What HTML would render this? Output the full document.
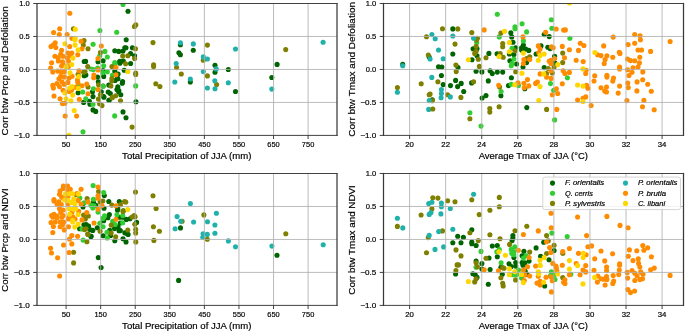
<!DOCTYPE html>
<html><head><meta charset="utf-8"><style>
html,body{margin:0;padding:0;background:#fff;}
svg{display:block;font-family:"Liberation Sans",sans-serif;will-change:transform;}
text{stroke:#000;stroke-width:0.18px;}
</style></head><body>
<svg width="685" height="332" viewBox="0 0 685 332">
<rect width="685" height="332" fill="#fff"/>
<clipPath id="c1"><rect x="37.0" y="3.5" width="300.00" height="131.90"/></clipPath>
<g clip-path="url(#c1)">
<g fill="#006400"><circle cx="84.2" cy="75.7" r="2.55"/><circle cx="84.2" cy="61.5" r="2.55"/><circle cx="78.1" cy="92.7" r="2.55"/><circle cx="83.6" cy="102.4" r="2.55"/><circle cx="89.4" cy="101.4" r="2.55"/><circle cx="90.0" cy="104.2" r="2.55"/><circle cx="93.0" cy="109.9" r="2.55"/><circle cx="95.7" cy="111.4" r="2.55"/><circle cx="93.0" cy="96.6" r="2.55"/><circle cx="103.9" cy="97.2" r="2.55"/><circle cx="109.0" cy="100.2" r="2.55"/><circle cx="128.0" cy="11.2" r="2.55"/><circle cx="126.2" cy="39.7" r="2.55"/><circle cx="114.8" cy="50.8" r="2.55"/><circle cx="118.7" cy="51.4" r="2.55"/><circle cx="123.0" cy="51.1" r="2.55"/><circle cx="124.8" cy="47.8" r="2.55"/><circle cx="85.6" cy="61.4" r="2.55"/><circle cx="98.0" cy="61.7" r="2.55"/><circle cx="103.1" cy="60.8" r="2.55"/><circle cx="119.9" cy="61.4" r="2.55"/><circle cx="123.3" cy="61.1" r="2.55"/><circle cx="85.9" cy="75.0" r="2.55"/><circle cx="97.5" cy="77.0" r="2.55"/><circle cx="98.3" cy="81.7" r="2.55"/><circle cx="103.1" cy="70.5" r="2.55"/><circle cx="103.7" cy="76.4" r="2.55"/><circle cx="114.8" cy="71.4" r="2.55"/><circle cx="118.1" cy="74.1" r="2.55"/><circle cx="117.5" cy="78.4" r="2.55"/><circle cx="115.1" cy="80.5" r="2.55"/><circle cx="122.6" cy="81.5" r="2.55"/><circle cx="124.2" cy="70.2" r="2.55"/><circle cx="119.9" cy="63.3" r="2.55"/><circle cx="92.5" cy="91.7" r="2.55"/><circle cx="101.3" cy="91.7" r="2.55"/><circle cx="103.7" cy="96.6" r="2.55"/><circle cx="103.1" cy="86.0" r="2.55"/><circle cx="108.2" cy="92.0" r="2.55"/><circle cx="110.3" cy="93.5" r="2.55"/><circle cx="108.8" cy="85.1" r="2.55"/><circle cx="117.8" cy="86.9" r="2.55"/><circle cx="116.9" cy="89.6" r="2.55"/><circle cx="118.7" cy="91.7" r="2.55"/><circle cx="120.8" cy="94.7" r="2.55"/><circle cx="109.1" cy="100.2" r="2.55"/><circle cx="122.3" cy="83.3" r="2.55"/><circle cx="126.0" cy="47.7" r="2.55"/><circle cx="132.4" cy="47.7" r="2.55"/><circle cx="130.6" cy="53.6" r="2.55"/><circle cx="134.6" cy="55.8" r="2.55"/><circle cx="119.7" cy="61.7" r="2.55"/><circle cx="130.6" cy="63.5" r="2.55"/><circle cx="117.9" cy="78.8" r="2.55"/><circle cx="118.8" cy="90.6" r="2.55"/><circle cx="136.0" cy="101.8" r="2.55"/><circle cx="123.0" cy="111.9" r="2.55"/><circle cx="126.0" cy="117.7" r="2.55"/><circle cx="180.4" cy="44.8" r="2.55"/><circle cx="193.3" cy="50.2" r="2.55"/><circle cx="178.9" cy="52.7" r="2.55"/><circle cx="180.4" cy="54.7" r="2.55"/><circle cx="215.0" cy="65.3" r="2.55"/><circle cx="215.0" cy="72.3" r="2.55"/><circle cx="228.3" cy="69.5" r="2.55"/><circle cx="190.3" cy="81.9" r="2.55"/><circle cx="235.5" cy="91.5" r="2.55"/><circle cx="277.1" cy="64.4" r="2.55"/><circle cx="271.8" cy="77.5" r="2.55"/></g>
<g fill="#32cd32"><circle cx="99.9" cy="30.5" r="2.55"/><circle cx="116.7" cy="32.3" r="2.55"/><circle cx="78.7" cy="85.4" r="2.55"/><circle cx="82.7" cy="92.0" r="2.55"/><circle cx="85.8" cy="98.7" r="2.55"/><circle cx="93.0" cy="104.2" r="2.55"/><circle cx="114.7" cy="115.9" r="2.55"/><circle cx="83.0" cy="131.8" r="2.55"/><circle cx="123.0" cy="4.4" r="2.55"/><circle cx="93.1" cy="44.3" r="2.55"/><circle cx="104.9" cy="51.4" r="2.55"/><circle cx="99.8" cy="55.7" r="2.55"/><circle cx="107.3" cy="57.0" r="2.55"/><circle cx="114.8" cy="62.6" r="2.55"/><circle cx="91.0" cy="69.0" r="2.55"/><circle cx="93.4" cy="69.6" r="2.55"/><circle cx="97.7" cy="68.1" r="2.55"/><circle cx="103.7" cy="65.7" r="2.55"/><circle cx="102.8" cy="72.6" r="2.55"/><circle cx="107.3" cy="71.7" r="2.55"/><circle cx="114.8" cy="64.2" r="2.55"/><circle cx="112.4" cy="75.3" r="2.55"/><circle cx="93.4" cy="88.7" r="2.55"/><circle cx="103.1" cy="86.3" r="2.55"/><circle cx="135.7" cy="85.9" r="2.55"/></g>
<g fill="#808000"><circle cx="73.4" cy="28.7" r="2.55"/><circle cx="84.0" cy="40.6" r="2.55"/><circle cx="83.3" cy="45.1" r="2.55"/><circle cx="78.1" cy="74.2" r="2.55"/><circle cx="83.6" cy="72.3" r="2.55"/><circle cx="98.4" cy="99.0" r="2.55"/><circle cx="102.0" cy="105.6" r="2.55"/><circle cx="99.6" cy="103.8" r="2.55"/><circle cx="112.3" cy="97.4" r="2.55"/><circle cx="134.4" cy="26.5" r="2.55"/><circle cx="135.8" cy="24.9" r="2.55"/><circle cx="153.0" cy="42.6" r="2.55"/><circle cx="88.0" cy="48.7" r="2.55"/><circle cx="100.4" cy="52.6" r="2.55"/><circle cx="122.7" cy="56.0" r="2.55"/><circle cx="87.7" cy="66.6" r="2.55"/><circle cx="85.0" cy="71.5" r="2.55"/><circle cx="111.9" cy="66.6" r="2.55"/><circle cx="111.9" cy="78.5" r="2.55"/><circle cx="111.8" cy="81.1" r="2.55"/><circle cx="88.0" cy="87.0" r="2.55"/><circle cx="98.6" cy="84.8" r="2.55"/><circle cx="100.4" cy="94.7" r="2.55"/><circle cx="110.9" cy="86.0" r="2.55"/><circle cx="115.7" cy="95.7" r="2.55"/><circle cx="112.1" cy="97.8" r="2.55"/><circle cx="120.5" cy="100.8" r="2.55"/><circle cx="135.5" cy="48.8" r="2.55"/><circle cx="127.8" cy="55.8" r="2.55"/><circle cx="134.6" cy="58.5" r="2.55"/><circle cx="125.6" cy="63.7" r="2.55"/><circle cx="153.6" cy="64.8" r="2.55"/><circle cx="153.6" cy="66.6" r="2.55"/><circle cx="176.6" cy="67.6" r="2.55"/><circle cx="135.7" cy="73.0" r="2.55"/><circle cx="135.7" cy="74.5" r="2.55"/><circle cx="155.8" cy="83.8" r="2.55"/><circle cx="159.9" cy="86.5" r="2.55"/><circle cx="132.1" cy="127.1" r="2.55"/><circle cx="207.4" cy="45.1" r="2.55"/><circle cx="203.3" cy="60.2" r="2.55"/><circle cx="181.3" cy="74.0" r="2.55"/><circle cx="207.4" cy="75.9" r="2.55"/><circle cx="216.6" cy="84.6" r="2.55"/><circle cx="285.7" cy="49.6" r="2.55"/></g>
<g fill="#20b2aa"><circle cx="176.2" cy="63.5" r="2.55"/><circle cx="174.8" cy="82.0" r="2.55"/><circle cx="180.4" cy="42.7" r="2.55"/><circle cx="193.3" cy="43.9" r="2.55"/><circle cx="235.5" cy="49.0" r="2.55"/><circle cx="203.3" cy="56.9" r="2.55"/><circle cx="207.4" cy="59.0" r="2.55"/><circle cx="216.2" cy="68.9" r="2.55"/><circle cx="203.3" cy="71.6" r="2.55"/><circle cx="190.3" cy="79.0" r="2.55"/><circle cx="214.8" cy="80.8" r="2.55"/><circle cx="207.4" cy="88.0" r="2.55"/><circle cx="215.0" cy="88.8" r="2.55"/><circle cx="228.3" cy="82.8" r="2.55"/><circle cx="323.1" cy="42.3" r="2.55"/><circle cx="271.8" cy="89.1" r="2.55"/></g>
<g fill="#ff8c00"><circle cx="69.8" cy="13.2" r="2.55"/><circle cx="59.7" cy="28.7" r="2.55"/><circle cx="53.6" cy="32.5" r="2.55"/><circle cx="59.3" cy="34.6" r="2.55"/><circle cx="67.1" cy="34.6" r="2.55"/><circle cx="71.9" cy="38.2" r="2.55"/><circle cx="81.1" cy="41.2" r="2.55"/><circle cx="55.2" cy="42.7" r="2.55"/><circle cx="51.0" cy="46.6" r="2.55"/><circle cx="55.8" cy="47.5" r="2.55"/><circle cx="53.1" cy="45.1" r="2.55"/><circle cx="69.7" cy="46.6" r="2.55"/><circle cx="82.0" cy="48.7" r="2.55"/><circle cx="61.6" cy="50.2" r="2.55"/><circle cx="77.8" cy="54.8" r="2.55"/><circle cx="60.7" cy="54.2" r="2.55"/><circle cx="54.9" cy="56.3" r="2.55"/><circle cx="58.3" cy="57.5" r="2.55"/><circle cx="63.1" cy="56.3" r="2.55"/><circle cx="67.9" cy="53.0" r="2.55"/><circle cx="71.8" cy="53.0" r="2.55"/><circle cx="70.3" cy="55.7" r="2.55"/><circle cx="67.3" cy="58.1" r="2.55"/><circle cx="51.6" cy="62.7" r="2.55"/><circle cx="50.7" cy="68.1" r="2.55"/><circle cx="52.8" cy="72.0" r="2.55"/><circle cx="57.7" cy="71.1" r="2.55"/><circle cx="58.3" cy="60.9" r="2.55"/><circle cx="62.5" cy="61.8" r="2.55"/><circle cx="68.5" cy="61.2" r="2.55"/><circle cx="61.6" cy="66.0" r="2.55"/><circle cx="63.1" cy="64.5" r="2.55"/><circle cx="68.5" cy="66.6" r="2.55"/><circle cx="61.3" cy="72.0" r="2.55"/><circle cx="64.3" cy="71.4" r="2.55"/><circle cx="60.7" cy="76.3" r="2.55"/><circle cx="64.3" cy="76.9" r="2.55"/><circle cx="69.1" cy="78.0" r="2.55"/><circle cx="72.1" cy="76.3" r="2.55"/><circle cx="58.9" cy="78.7" r="2.55"/><circle cx="79.0" cy="70.8" r="2.55"/><circle cx="77.5" cy="80.0" r="2.55"/><circle cx="52.8" cy="85.4" r="2.55"/><circle cx="53.4" cy="88.1" r="2.55"/><circle cx="57.0" cy="83.6" r="2.55"/><circle cx="59.5" cy="86.6" r="2.55"/><circle cx="61.9" cy="81.8" r="2.55"/><circle cx="64.3" cy="84.2" r="2.55"/><circle cx="67.9" cy="82.4" r="2.55"/><circle cx="63.1" cy="90.2" r="2.55"/><circle cx="69.1" cy="91.4" r="2.55"/><circle cx="71.5" cy="90.2" r="2.55"/><circle cx="75.1" cy="87.2" r="2.55"/><circle cx="77.8" cy="82.4" r="2.55"/><circle cx="82.0" cy="85.7" r="2.55"/><circle cx="54.0" cy="96.0" r="2.55"/><circle cx="60.1" cy="98.7" r="2.55"/><circle cx="79.3" cy="99.3" r="2.55"/><circle cx="62.5" cy="103.6" r="2.55"/><circle cx="64.9" cy="103.3" r="2.55"/><circle cx="65.2" cy="116.0" r="2.55"/><circle cx="76.6" cy="116.0" r="2.55"/><circle cx="101.3" cy="46.0" r="2.55"/><circle cx="98.0" cy="58.5" r="2.55"/><circle cx="98.0" cy="69.9" r="2.55"/><circle cx="93.9" cy="75.1" r="2.55"/><circle cx="93.7" cy="77.8" r="2.55"/><circle cx="116.0" cy="67.5" r="2.55"/><circle cx="116.0" cy="74.7" r="2.55"/><circle cx="86.8" cy="84.0" r="2.55"/><circle cx="98.0" cy="89.6" r="2.55"/><circle cx="88.0" cy="93.8" r="2.55"/></g>
<g fill="#ffd700"><circle cx="75.3" cy="29.3" r="2.55"/><circle cx="74.9" cy="40.0" r="2.55"/><circle cx="75.1" cy="38.4" r="2.55"/><circle cx="64.9" cy="43.7" r="2.55"/><circle cx="75.1" cy="45.1" r="2.55"/><circle cx="78.1" cy="49.9" r="2.55"/><circle cx="73.0" cy="58.1" r="2.55"/><circle cx="66.1" cy="66.9" r="2.55"/><circle cx="71.8" cy="64.5" r="2.55"/><circle cx="70.0" cy="72.7" r="2.55"/><circle cx="78.7" cy="76.6" r="2.55"/><circle cx="69.7" cy="88.1" r="2.55"/><circle cx="72.1" cy="86.6" r="2.55"/><circle cx="64.9" cy="93.0" r="2.55"/><circle cx="72.7" cy="95.1" r="2.55"/><circle cx="78.4" cy="88.4" r="2.55"/><circle cx="66.1" cy="98.7" r="2.55"/><circle cx="70.9" cy="100.9" r="2.55"/><circle cx="74.2" cy="110.5" r="2.55"/><circle cx="68.9" cy="135.2" r="2.55"/><circle cx="127.8" cy="71.4" r="2.55"/></g>
</g>
<g stroke="#b0b0b0" stroke-width="0.85"><line x1="66.10" y1="3.5" x2="66.10" y2="135.4"/><line x1="100.67" y1="3.5" x2="100.67" y2="135.4"/><line x1="135.24" y1="3.5" x2="135.24" y2="135.4"/><line x1="169.81" y1="3.5" x2="169.81" y2="135.4"/><line x1="204.38" y1="3.5" x2="204.38" y2="135.4"/><line x1="238.95" y1="3.5" x2="238.95" y2="135.4"/><line x1="273.52" y1="3.5" x2="273.52" y2="135.4"/><line x1="308.09" y1="3.5" x2="308.09" y2="135.4"/><line x1="37.0" y1="36.48" x2="337.0" y2="36.48"/><line x1="37.0" y1="69.45" x2="337.0" y2="69.45"/><line x1="37.0" y1="102.43" x2="337.0" y2="102.43"/></g>
<g stroke="#383838" stroke-linecap="square"><line x1="37.0" y1="3.5" x2="337.0" y2="3.5" stroke-width="0.95"/><line x1="37.0" y1="135.4" x2="337.0" y2="135.4" stroke-width="0.95"/><line x1="37.0" y1="3.5" x2="37.0" y2="135.4" stroke-width="1.25"/><line x1="337.0" y1="3.5" x2="337.0" y2="135.4" stroke-width="1.25"/></g>
<g stroke="#383838" stroke-width="0.95"><line x1="66.10" y1="135.4" x2="66.10" y2="139.00"/><line x1="100.67" y1="135.4" x2="100.67" y2="139.00"/><line x1="135.24" y1="135.4" x2="135.24" y2="139.00"/><line x1="169.81" y1="135.4" x2="169.81" y2="139.00"/><line x1="204.38" y1="135.4" x2="204.38" y2="139.00"/><line x1="238.95" y1="135.4" x2="238.95" y2="139.00"/><line x1="273.52" y1="135.4" x2="273.52" y2="139.00"/><line x1="308.09" y1="135.4" x2="308.09" y2="139.00"/><line x1="33.20" y1="3.50" x2="37.0" y2="3.50"/><line x1="33.20" y1="36.48" x2="37.0" y2="36.48"/><line x1="33.20" y1="69.45" x2="37.0" y2="69.45"/><line x1="33.20" y1="102.43" x2="37.0" y2="102.43"/><line x1="33.20" y1="135.40" x2="37.0" y2="135.40"/></g>
<g font-size="7.4" fill="#000"><text x="66.10" y="147.20" text-anchor="middle" textLength="8.7" lengthAdjust="spacingAndGlyphs">50</text><text x="100.67" y="147.20" text-anchor="middle" textLength="12.4" lengthAdjust="spacingAndGlyphs">150</text><text x="135.24" y="147.20" text-anchor="middle" textLength="12.4" lengthAdjust="spacingAndGlyphs">250</text><text x="169.81" y="147.20" text-anchor="middle" textLength="12.4" lengthAdjust="spacingAndGlyphs">350</text><text x="204.38" y="147.20" text-anchor="middle" textLength="12.4" lengthAdjust="spacingAndGlyphs">450</text><text x="238.95" y="147.20" text-anchor="middle" textLength="12.4" lengthAdjust="spacingAndGlyphs">550</text><text x="273.52" y="147.20" text-anchor="middle" textLength="12.4" lengthAdjust="spacingAndGlyphs">650</text><text x="308.09" y="147.20" text-anchor="middle" textLength="12.4" lengthAdjust="spacingAndGlyphs">750</text><text x="29.80" y="6.10" text-anchor="end" textLength="10.5" lengthAdjust="spacingAndGlyphs">1.0</text><text x="29.80" y="39.08" text-anchor="end" textLength="10.5" lengthAdjust="spacingAndGlyphs">0.5</text><text x="29.80" y="72.05" text-anchor="end" textLength="10.5" lengthAdjust="spacingAndGlyphs">0.0</text><text x="29.80" y="105.03" text-anchor="end" textLength="15.9" lengthAdjust="spacingAndGlyphs">−0.5</text><text x="29.80" y="138.00" text-anchor="end" textLength="15.9" lengthAdjust="spacingAndGlyphs">−1.0</text></g>
<text x="122.1" y="159.00" font-size="9.4" textLength="129.3" lengthAdjust="spacingAndGlyphs">Total Precipitation of JJA (mm)</text>
<text transform="translate(7.5,70.85) rotate(-90)" x="0" y="0" text-anchor="middle" font-size="9.4" textLength="129.3" lengthAdjust="spacingAndGlyphs">Corr btw Prcp and Defoliation</text>
<clipPath id="c2"><rect x="383.5" y="3.5" width="300.00" height="131.90"/></clipPath>
<g clip-path="url(#c2)">
<g fill="#006400"><circle cx="429.2" cy="57.0" r="2.55"/><circle cx="402.7" cy="64.4" r="2.55"/><circle cx="438.5" cy="66.7" r="2.55"/><circle cx="441.8" cy="67.0" r="2.55"/><circle cx="441.4" cy="75.5" r="2.55"/><circle cx="443.2" cy="84.6" r="2.55"/><circle cx="432.3" cy="99.7" r="2.55"/><circle cx="452.8" cy="28.9" r="2.55"/><circle cx="473.1" cy="48.8" r="2.55"/><circle cx="477.0" cy="48.8" r="2.55"/><circle cx="477.0" cy="55.8" r="2.55"/><circle cx="452.8" cy="54.0" r="2.55"/><circle cx="472.0" cy="59.7" r="2.55"/><circle cx="488.9" cy="53.4" r="2.55"/><circle cx="497.1" cy="53.8" r="2.55"/><circle cx="458.0" cy="67.6" r="2.55"/><circle cx="476.1" cy="71.2" r="2.55"/><circle cx="481.9" cy="71.9" r="2.55"/><circle cx="490.1" cy="70.7" r="2.55"/><circle cx="492.3" cy="73.6" r="2.55"/><circle cx="497.3" cy="72.1" r="2.55"/><circle cx="502.7" cy="72.1" r="2.55"/><circle cx="455.6" cy="80.4" r="2.55"/><circle cx="461.2" cy="83.4" r="2.55"/><circle cx="450.5" cy="85.6" r="2.55"/><circle cx="457.6" cy="86.6" r="2.55"/><circle cx="471.6" cy="82.9" r="2.55"/><circle cx="488.3" cy="80.9" r="2.55"/><circle cx="463.7" cy="91.5" r="2.55"/><circle cx="482.1" cy="98.0" r="2.55"/><circle cx="486.0" cy="95.6" r="2.55"/><circle cx="500.9" cy="95.8" r="2.55"/><circle cx="510.8" cy="32.8" r="2.55"/><circle cx="511.7" cy="36.9" r="2.55"/><circle cx="513.0" cy="42.3" r="2.55"/><circle cx="523.4" cy="45.0" r="2.55"/><circle cx="521.6" cy="47.7" r="2.55"/><circle cx="525.7" cy="49.1" r="2.55"/><circle cx="528.8" cy="50.4" r="2.55"/><circle cx="521.6" cy="50.0" r="2.55"/><circle cx="515.7" cy="47.7" r="2.55"/><circle cx="513.9" cy="54.5" r="2.55"/><circle cx="509.4" cy="54.0" r="2.55"/><circle cx="509.9" cy="60.8" r="2.55"/><circle cx="544.2" cy="34.6" r="2.55"/><circle cx="549.2" cy="36.6" r="2.55"/><circle cx="541.0" cy="45.9" r="2.55"/><circle cx="547.8" cy="47.3" r="2.55"/><circle cx="550.1" cy="48.6" r="2.55"/><circle cx="536.1" cy="54.0" r="2.55"/><circle cx="554.6" cy="56.3" r="2.55"/><circle cx="516.6" cy="64.0" r="2.55"/><circle cx="526.6" cy="62.6" r="2.55"/><circle cx="523.0" cy="67.1" r="2.55"/><circle cx="555.0" cy="63.1" r="2.55"/><circle cx="544.2" cy="67.6" r="2.55"/><circle cx="511.4" cy="77.8" r="2.55"/><circle cx="508.5" cy="85.6" r="2.55"/><circle cx="524.8" cy="88.8" r="2.55"/><circle cx="526.8" cy="107.6" r="2.55"/></g>
<g fill="#32cd32"><circle cx="497.3" cy="14.3" r="2.55"/><circle cx="476.7" cy="42.6" r="2.55"/><circle cx="499.3" cy="36.9" r="2.55"/><circle cx="501.1" cy="91.5" r="2.55"/><circle cx="469.9" cy="112.7" r="2.55"/><circle cx="481.0" cy="126.1" r="2.55"/><circle cx="522.1" cy="23.8" r="2.55"/><circle cx="515.0" cy="26.7" r="2.55"/><circle cx="515.0" cy="28.7" r="2.55"/><circle cx="551.4" cy="19.7" r="2.55"/><circle cx="551.9" cy="28.3" r="2.55"/><circle cx="526.6" cy="31.9" r="2.55"/><circle cx="523.4" cy="40.9" r="2.55"/><circle cx="512.1" cy="48.2" r="2.55"/><circle cx="513.9" cy="59.0" r="2.55"/><circle cx="512.1" cy="63.5" r="2.55"/><circle cx="511.2" cy="65.8" r="2.55"/><circle cx="550.5" cy="83.6" r="2.55"/><circle cx="511.2" cy="84.3" r="2.55"/><circle cx="518.5" cy="85.6" r="2.55"/><circle cx="553.7" cy="90.2" r="2.55"/><circle cx="554.6" cy="119.9" r="2.55"/><circle cx="569.9" cy="38.2" r="2.55"/><circle cx="567.4" cy="77.8" r="2.55"/></g>
<g fill="#808000"><circle cx="426.5" cy="36.7" r="2.55"/><circle cx="442.5" cy="28.8" r="2.55"/><circle cx="428.3" cy="55.0" r="2.55"/><circle cx="397.4" cy="87.6" r="2.55"/><circle cx="421.2" cy="83.7" r="2.55"/><circle cx="437.9" cy="81.7" r="2.55"/><circle cx="429.2" cy="94.8" r="2.55"/><circle cx="430.1" cy="94.1" r="2.55"/><circle cx="432.3" cy="100.8" r="2.55"/><circle cx="457.8" cy="28.9" r="2.55"/><circle cx="471.8" cy="32.6" r="2.55"/><circle cx="500.9" cy="33.0" r="2.55"/><circle cx="477.4" cy="38.2" r="2.55"/><circle cx="476.5" cy="40.0" r="2.55"/><circle cx="455.0" cy="44.1" r="2.55"/><circle cx="476.1" cy="46.2" r="2.55"/><circle cx="476.1" cy="51.3" r="2.55"/><circle cx="474.7" cy="53.4" r="2.55"/><circle cx="478.3" cy="59.2" r="2.55"/><circle cx="502.7" cy="43.6" r="2.55"/><circle cx="502.7" cy="46.8" r="2.55"/><circle cx="500.2" cy="53.6" r="2.55"/><circle cx="503.2" cy="57.2" r="2.55"/><circle cx="486.0" cy="57.8" r="2.55"/><circle cx="455.9" cy="65.1" r="2.55"/><circle cx="456.2" cy="71.6" r="2.55"/><circle cx="479.4" cy="66.4" r="2.55"/><circle cx="473.6" cy="81.8" r="2.55"/><circle cx="499.6" cy="87.0" r="2.55"/><circle cx="447.6" cy="94.7" r="2.55"/><circle cx="460.9" cy="97.4" r="2.55"/><circle cx="489.8" cy="108.5" r="2.55"/><circle cx="489.8" cy="112.1" r="2.55"/><circle cx="499.1" cy="106.7" r="2.55"/><circle cx="469.9" cy="118.8" r="2.55"/><circle cx="515.0" cy="50.7" r="2.55"/><circle cx="529.7" cy="56.7" r="2.55"/><circle cx="526.6" cy="58.6" r="2.55"/><circle cx="562.7" cy="53.1" r="2.55"/><circle cx="554.1" cy="67.1" r="2.55"/><circle cx="548.3" cy="68.5" r="2.55"/><circle cx="552.3" cy="73.0" r="2.55"/><circle cx="546.5" cy="73.5" r="2.55"/><circle cx="515.7" cy="71.8" r="2.55"/><circle cx="562.7" cy="62.6" r="2.55"/><circle cx="546.6" cy="109.4" r="2.55"/></g>
<g fill="#20b2aa"><circle cx="431.9" cy="34.6" r="2.55"/><circle cx="435.2" cy="38.8" r="2.55"/><circle cx="438.5" cy="50.0" r="2.55"/><circle cx="430.1" cy="59.0" r="2.55"/><circle cx="443.2" cy="58.7" r="2.55"/><circle cx="402.7" cy="65.8" r="2.55"/><circle cx="431.8" cy="77.4" r="2.55"/><circle cx="397.4" cy="92.3" r="2.55"/><circle cx="441.4" cy="89.6" r="2.55"/><circle cx="441.4" cy="93.6" r="2.55"/><circle cx="441.1" cy="97.7" r="2.55"/><circle cx="429.2" cy="100.6" r="2.55"/><circle cx="428.7" cy="109.4" r="2.55"/><circle cx="452.8" cy="36.0" r="2.55"/><circle cx="473.6" cy="38.2" r="2.55"/><circle cx="450.3" cy="96.9" r="2.55"/></g>
<g fill="#ff8c00"><circle cx="484.2" cy="29.9" r="2.55"/><circle cx="498.7" cy="85.2" r="2.55"/><circle cx="556.2" cy="29.0" r="2.55"/><circle cx="545.6" cy="32.2" r="2.55"/><circle cx="563.6" cy="30.1" r="2.55"/><circle cx="523.0" cy="36.9" r="2.55"/><circle cx="538.3" cy="45.9" r="2.55"/><circle cx="540.1" cy="49.1" r="2.55"/><circle cx="551.4" cy="46.8" r="2.55"/><circle cx="553.2" cy="47.7" r="2.55"/><circle cx="538.8" cy="52.7" r="2.55"/><circle cx="554.6" cy="58.6" r="2.55"/><circle cx="523.9" cy="59.5" r="2.55"/><circle cx="529.7" cy="59.5" r="2.55"/><circle cx="551.0" cy="60.4" r="2.55"/><circle cx="562.3" cy="46.4" r="2.55"/><circle cx="564.5" cy="57.8" r="2.55"/><circle cx="523.4" cy="63.5" r="2.55"/><circle cx="549.2" cy="61.3" r="2.55"/><circle cx="551.0" cy="63.5" r="2.55"/><circle cx="551.0" cy="70.7" r="2.55"/><circle cx="540.1" cy="73.9" r="2.55"/><circle cx="546.5" cy="77.1" r="2.55"/><circle cx="551.0" cy="78.4" r="2.55"/><circle cx="527.5" cy="79.6" r="2.55"/><circle cx="523.9" cy="83.2" r="2.55"/><circle cx="528.8" cy="85.9" r="2.55"/><circle cx="524.3" cy="87.7" r="2.55"/><circle cx="518.0" cy="82.9" r="2.55"/><circle cx="535.6" cy="83.4" r="2.55"/><circle cx="537.4" cy="82.0" r="2.55"/><circle cx="563.2" cy="70.7" r="2.55"/><circle cx="562.3" cy="83.8" r="2.55"/><circle cx="556.4" cy="88.8" r="2.55"/><circle cx="557.7" cy="93.5" r="2.55"/><circle cx="552.3" cy="94.7" r="2.55"/><circle cx="556.8" cy="109.4" r="2.55"/><circle cx="565.4" cy="29.9" r="2.55"/><circle cx="580.3" cy="43.2" r="2.55"/><circle cx="583.9" cy="45.5" r="2.55"/><circle cx="569.4" cy="49.7" r="2.55"/><circle cx="578.5" cy="50.4" r="2.55"/><circle cx="576.2" cy="60.3" r="2.55"/><circle cx="583.2" cy="61.6" r="2.55"/><circle cx="613.2" cy="37.1" r="2.55"/><circle cx="603.7" cy="45.9" r="2.55"/><circle cx="597.6" cy="54.7" r="2.55"/><circle cx="601.0" cy="55.6" r="2.55"/><circle cx="606.9" cy="55.8" r="2.55"/><circle cx="612.8" cy="57.2" r="2.55"/><circle cx="605.1" cy="59.5" r="2.55"/><circle cx="619.3" cy="52.2" r="2.55"/><circle cx="620.0" cy="53.6" r="2.55"/><circle cx="586.1" cy="70.3" r="2.55"/><circle cx="585.7" cy="73.5" r="2.55"/><circle cx="564.9" cy="73.5" r="2.55"/><circle cx="569.4" cy="72.4" r="2.55"/><circle cx="586.6" cy="85.2" r="2.55"/><circle cx="587.9" cy="88.2" r="2.55"/><circle cx="604.2" cy="63.5" r="2.55"/><circle cx="619.6" cy="67.1" r="2.55"/><circle cx="619.6" cy="68.9" r="2.55"/><circle cx="594.7" cy="75.7" r="2.55"/><circle cx="594.0" cy="81.0" r="2.55"/><circle cx="606.9" cy="75.3" r="2.55"/><circle cx="606.9" cy="77.1" r="2.55"/><circle cx="613.5" cy="78.0" r="2.55"/><circle cx="612.8" cy="81.1" r="2.55"/><circle cx="619.6" cy="86.1" r="2.55"/><circle cx="601.0" cy="87.7" r="2.55"/><circle cx="606.5" cy="87.0" r="2.55"/><circle cx="604.7" cy="91.1" r="2.55"/><circle cx="606.5" cy="92.0" r="2.55"/><circle cx="618.2" cy="93.1" r="2.55"/><circle cx="585.7" cy="96.9" r="2.55"/><circle cx="583.0" cy="98.3" r="2.55"/><circle cx="577.6" cy="100.1" r="2.55"/><circle cx="591.1" cy="105.5" r="2.55"/><circle cx="654.2" cy="109.8" r="2.55"/><circle cx="642.5" cy="106.8" r="2.55"/><circle cx="634.7" cy="34.6" r="2.55"/><circle cx="640.1" cy="35.8" r="2.55"/><circle cx="640.4" cy="39.7" r="2.55"/><circle cx="634.7" cy="43.3" r="2.55"/><circle cx="628.1" cy="44.6" r="2.55"/><circle cx="670.1" cy="41.5" r="2.55"/><circle cx="638.0" cy="50.0" r="2.55"/><circle cx="641.6" cy="50.0" r="2.55"/><circle cx="650.6" cy="51.4" r="2.55"/><circle cx="639.8" cy="57.3" r="2.55"/><circle cx="627.6" cy="59.0" r="2.55"/><circle cx="630.5" cy="60.6" r="2.55"/><circle cx="634.7" cy="60.8" r="2.55"/><circle cx="639.4" cy="62.9" r="2.55"/><circle cx="638.0" cy="67.0" r="2.55"/><circle cx="633.0" cy="67.7" r="2.55"/><circle cx="627.6" cy="69.7" r="2.55"/><circle cx="632.0" cy="72.2" r="2.55"/><circle cx="642.8" cy="71.9" r="2.55"/><circle cx="629.0" cy="75.6" r="2.55"/><circle cx="642.7" cy="79.8" r="2.55"/><circle cx="637.1" cy="81.9" r="2.55"/><circle cx="627.8" cy="83.0" r="2.55"/><circle cx="647.7" cy="84.3" r="2.55"/><circle cx="628.3" cy="87.6" r="2.55"/><circle cx="636.9" cy="90.9" r="2.55"/><circle cx="651.3" cy="91.2" r="2.55"/><circle cx="626.9" cy="100.6" r="2.55"/><circle cx="643.9" cy="100.4" r="2.55"/></g>
<g fill="#ffd700"><circle cx="504.5" cy="31.2" r="2.55"/><circle cx="468.4" cy="59.7" r="2.55"/><circle cx="499.1" cy="56.5" r="2.55"/><circle cx="509.4" cy="42.6" r="2.55"/><circle cx="523.4" cy="53.1" r="2.55"/><circle cx="509.4" cy="51.8" r="2.55"/><circle cx="540.1" cy="55.4" r="2.55"/><circle cx="544.2" cy="54.0" r="2.55"/><circle cx="538.3" cy="60.3" r="2.55"/><circle cx="557.7" cy="64.6" r="2.55"/><circle cx="543.7" cy="73.9" r="2.55"/><circle cx="521.9" cy="73.3" r="2.55"/><circle cx="514.8" cy="84.7" r="2.55"/><circle cx="540.0" cy="86.6" r="2.55"/><circle cx="538.8" cy="100.6" r="2.55"/><circle cx="569.4" cy="3.0" r="2.55"/><circle cx="594.9" cy="52.5" r="2.55"/><circle cx="583.0" cy="68.9" r="2.55"/><circle cx="577.6" cy="85.0" r="2.55"/><circle cx="583.0" cy="86.1" r="2.55"/><circle cx="583.0" cy="101.5" r="2.55"/></g>
<circle cx="432.8" cy="109.0" r="2.55" fill="#808000"/>
</g>
<g stroke="#b0b0b0" stroke-width="0.85"><line x1="409.60" y1="3.5" x2="409.60" y2="135.4"/><line x1="445.67" y1="3.5" x2="445.67" y2="135.4"/><line x1="481.74" y1="3.5" x2="481.74" y2="135.4"/><line x1="517.82" y1="3.5" x2="517.82" y2="135.4"/><line x1="553.89" y1="3.5" x2="553.89" y2="135.4"/><line x1="589.96" y1="3.5" x2="589.96" y2="135.4"/><line x1="626.03" y1="3.5" x2="626.03" y2="135.4"/><line x1="662.10" y1="3.5" x2="662.10" y2="135.4"/><line x1="383.5" y1="36.48" x2="683.5" y2="36.48"/><line x1="383.5" y1="69.45" x2="683.5" y2="69.45"/><line x1="383.5" y1="102.43" x2="683.5" y2="102.43"/></g>
<g stroke="#383838" stroke-linecap="square"><line x1="383.5" y1="3.5" x2="683.5" y2="3.5" stroke-width="0.95"/><line x1="383.5" y1="135.4" x2="683.5" y2="135.4" stroke-width="0.95"/><line x1="383.5" y1="3.5" x2="383.5" y2="135.4" stroke-width="1.25"/><line x1="683.5" y1="3.5" x2="683.5" y2="135.4" stroke-width="1.25"/></g>
<g stroke="#383838" stroke-width="0.95"><line x1="409.60" y1="135.4" x2="409.60" y2="139.00"/><line x1="445.67" y1="135.4" x2="445.67" y2="139.00"/><line x1="481.74" y1="135.4" x2="481.74" y2="139.00"/><line x1="517.82" y1="135.4" x2="517.82" y2="139.00"/><line x1="553.89" y1="135.4" x2="553.89" y2="139.00"/><line x1="589.96" y1="135.4" x2="589.96" y2="139.00"/><line x1="626.03" y1="135.4" x2="626.03" y2="139.00"/><line x1="662.10" y1="135.4" x2="662.10" y2="139.00"/><line x1="379.70" y1="3.50" x2="383.5" y2="3.50"/><line x1="379.70" y1="36.48" x2="383.5" y2="36.48"/><line x1="379.70" y1="69.45" x2="383.5" y2="69.45"/><line x1="379.70" y1="102.43" x2="383.5" y2="102.43"/><line x1="379.70" y1="135.40" x2="383.5" y2="135.40"/></g>
<g font-size="7.4" fill="#000"><text x="409.60" y="147.20" text-anchor="middle" textLength="8.7" lengthAdjust="spacingAndGlyphs">20</text><text x="445.67" y="147.20" text-anchor="middle" textLength="8.7" lengthAdjust="spacingAndGlyphs">22</text><text x="481.74" y="147.20" text-anchor="middle" textLength="8.7" lengthAdjust="spacingAndGlyphs">24</text><text x="517.82" y="147.20" text-anchor="middle" textLength="8.7" lengthAdjust="spacingAndGlyphs">26</text><text x="553.89" y="147.20" text-anchor="middle" textLength="8.7" lengthAdjust="spacingAndGlyphs">28</text><text x="589.96" y="147.20" text-anchor="middle" textLength="8.7" lengthAdjust="spacingAndGlyphs">30</text><text x="626.03" y="147.20" text-anchor="middle" textLength="8.7" lengthAdjust="spacingAndGlyphs">32</text><text x="662.10" y="147.20" text-anchor="middle" textLength="8.7" lengthAdjust="spacingAndGlyphs">34</text><text x="376.30" y="6.10" text-anchor="end" textLength="10.5" lengthAdjust="spacingAndGlyphs">1.0</text><text x="376.30" y="39.08" text-anchor="end" textLength="10.5" lengthAdjust="spacingAndGlyphs">0.5</text><text x="376.30" y="72.05" text-anchor="end" textLength="10.5" lengthAdjust="spacingAndGlyphs">0.0</text><text x="376.30" y="105.03" text-anchor="end" textLength="15.9" lengthAdjust="spacingAndGlyphs">−0.5</text><text x="376.30" y="138.00" text-anchor="end" textLength="15.9" lengthAdjust="spacingAndGlyphs">−1.0</text></g>
<text x="478.7" y="159.00" font-size="9.4" textLength="109.3" lengthAdjust="spacingAndGlyphs">Average Tmax of JJA (°C)</text>
<text transform="translate(354.6,69.35) rotate(-90)" x="0" y="0" text-anchor="middle" font-size="9.4" textLength="134.7" lengthAdjust="spacingAndGlyphs">Corr btw Tmax and Defoliation</text>
<clipPath id="c3"><rect x="37.0" y="173.5" width="300.00" height="131.90"/></clipPath>
<g clip-path="url(#c3)">
<g fill="#006400"><circle cx="83.0" cy="207.0" r="2.55"/><circle cx="79.6" cy="228.7" r="2.55"/><circle cx="83.9" cy="224.7" r="2.55"/><circle cx="91.0" cy="236.3" r="2.55"/><circle cx="104.3" cy="195.6" r="2.55"/><circle cx="93.4" cy="202.2" r="2.55"/><circle cx="95.8" cy="205.3" r="2.55"/><circle cx="104.0" cy="208.3" r="2.55"/><circle cx="108.8" cy="201.5" r="2.55"/><circle cx="119.3" cy="201.6" r="2.55"/><circle cx="117.8" cy="208.9" r="2.55"/><circle cx="109.4" cy="214.5" r="2.55"/><circle cx="107.9" cy="217.8" r="2.55"/><circle cx="103.7" cy="220.8" r="2.55"/><circle cx="97.3" cy="227.7" r="2.55"/><circle cx="86.2" cy="224.5" r="2.55"/><circle cx="88.6" cy="226.0" r="2.55"/><circle cx="90.3" cy="229.8" r="2.55"/><circle cx="92.8" cy="230.4" r="2.55"/><circle cx="119.3" cy="217.2" r="2.55"/><circle cx="122.7" cy="217.2" r="2.55"/><circle cx="118.1" cy="226.9" r="2.55"/><circle cx="117.5" cy="210.3" r="2.55"/><circle cx="91.0" cy="236.4" r="2.55"/><circle cx="103.1" cy="235.8" r="2.55"/><circle cx="109.7" cy="230.4" r="2.55"/><circle cx="110.6" cy="235.5" r="2.55"/><circle cx="114.8" cy="240.7" r="2.55"/><circle cx="119.0" cy="230.7" r="2.55"/><circle cx="114.5" cy="228.6" r="2.55"/><circle cx="123.0" cy="238.7" r="2.55"/><circle cx="124.8" cy="232.8" r="2.55"/><circle cx="98.3" cy="257.6" r="2.55"/><circle cx="101.1" cy="267.5" r="2.55"/><circle cx="123.3" cy="210.8" r="2.55"/><circle cx="126.3" cy="219.4" r="2.55"/><circle cx="129.9" cy="218.8" r="2.55"/><circle cx="120.3" cy="223.0" r="2.55"/><circle cx="136.6" cy="222.4" r="2.55"/><circle cx="126.0" cy="233.1" r="2.55"/><circle cx="120.3" cy="230.6" r="2.55"/><circle cx="128.1" cy="234.4" r="2.55"/><circle cx="126.0" cy="241.9" r="2.55"/><circle cx="180.5" cy="227.9" r="2.55"/><circle cx="277.0" cy="255.3" r="2.55"/><circle cx="178.6" cy="280.4" r="2.55"/></g>
<g fill="#32cd32"><circle cx="79.9" cy="198.1" r="2.55"/><circle cx="84.2" cy="202.8" r="2.55"/><circle cx="82.0" cy="229.0" r="2.55"/><circle cx="83.1" cy="240.1" r="2.55"/><circle cx="93.1" cy="185.6" r="2.55"/><circle cx="103.7" cy="192.6" r="2.55"/><circle cx="93.4" cy="199.2" r="2.55"/><circle cx="91.0" cy="205.3" r="2.55"/><circle cx="94.0" cy="205.9" r="2.55"/><circle cx="92.8" cy="208.0" r="2.55"/><circle cx="98.0" cy="212.1" r="2.55"/><circle cx="104.6" cy="215.7" r="2.55"/><circle cx="102.8" cy="218.4" r="2.55"/><circle cx="99.8" cy="223.3" r="2.55"/><circle cx="103.1" cy="226.8" r="2.55"/><circle cx="116.9" cy="214.8" r="2.55"/><circle cx="122.7" cy="222.8" r="2.55"/><circle cx="112.7" cy="221.4" r="2.55"/><circle cx="115.1" cy="224.5" r="2.55"/><circle cx="107.0" cy="232.2" r="2.55"/><circle cx="107.3" cy="237.9" r="2.55"/><circle cx="122.7" cy="215.6" r="2.55"/></g>
<g fill="#808000"><circle cx="76.3" cy="194.8" r="2.55"/><circle cx="83.6" cy="215.0" r="2.55"/><circle cx="84.5" cy="229.6" r="2.55"/><circle cx="88.0" cy="234.5" r="2.55"/><circle cx="86.9" cy="241.7" r="2.55"/><circle cx="73.6" cy="252.3" r="2.55"/><circle cx="73.6" cy="262.9" r="2.55"/><circle cx="98.6" cy="191.6" r="2.55"/><circle cx="87.1" cy="198.6" r="2.55"/><circle cx="100.1" cy="201.9" r="2.55"/><circle cx="102.8" cy="201.0" r="2.55"/><circle cx="111.8" cy="205.1" r="2.55"/><circle cx="120.5" cy="204.7" r="2.55"/><circle cx="123.0" cy="211.4" r="2.55"/><circle cx="124.5" cy="201.6" r="2.55"/><circle cx="88.3" cy="216.0" r="2.55"/><circle cx="85.3" cy="219.0" r="2.55"/><circle cx="85.9" cy="228.7" r="2.55"/><circle cx="111.2" cy="225.1" r="2.55"/><circle cx="100.1" cy="231.3" r="2.55"/><circle cx="87.7" cy="234.0" r="2.55"/><circle cx="111.2" cy="233.1" r="2.55"/><circle cx="115.7" cy="236.7" r="2.55"/><circle cx="135.5" cy="192.0" r="2.55"/><circle cx="153.0" cy="195.8" r="2.55"/><circle cx="125.8" cy="202.1" r="2.55"/><circle cx="156.1" cy="208.5" r="2.55"/><circle cx="134.2" cy="215.6" r="2.55"/><circle cx="132.0" cy="217.0" r="2.55"/><circle cx="135.1" cy="216.7" r="2.55"/><circle cx="134.8" cy="224.2" r="2.55"/><circle cx="153.4" cy="226.8" r="2.55"/><circle cx="127.8" cy="230.0" r="2.55"/><circle cx="135.7" cy="229.4" r="2.55"/><circle cx="135.7" cy="233.0" r="2.55"/><circle cx="159.4" cy="231.2" r="2.55"/><circle cx="135.8" cy="241.9" r="2.55"/><circle cx="153.9" cy="240.4" r="2.55"/><circle cx="182.1" cy="221.2" r="2.55"/><circle cx="203.9" cy="214.9" r="2.55"/><circle cx="207.3" cy="239.3" r="2.55"/><circle cx="285.8" cy="233.8" r="2.55"/></g>
<g fill="#20b2aa"><circle cx="190.4" cy="203.6" r="2.55"/><circle cx="177.1" cy="216.6" r="2.55"/><circle cx="180.7" cy="221.2" r="2.55"/><circle cx="193.6" cy="222.0" r="2.55"/><circle cx="207.5" cy="221.8" r="2.55"/><circle cx="216.4" cy="213.3" r="2.55"/><circle cx="214.9" cy="225.0" r="2.55"/><circle cx="175.1" cy="228.8" r="2.55"/><circle cx="214.9" cy="233.2" r="2.55"/><circle cx="203.1" cy="233.8" r="2.55"/><circle cx="202.8" cy="237.2" r="2.55"/><circle cx="207.3" cy="234.4" r="2.55"/><circle cx="228.4" cy="240.9" r="2.55"/><circle cx="235.5" cy="246.7" r="2.55"/><circle cx="271.9" cy="246.1" r="2.55"/><circle cx="323.2" cy="244.8" r="2.55"/></g>
<g fill="#ff8c00"><circle cx="63.4" cy="186.0" r="2.55"/><circle cx="68.0" cy="196.4" r="2.55"/><circle cx="61.6" cy="197.0" r="2.55"/><circle cx="67.6" cy="186.0" r="2.55"/><circle cx="63.1" cy="188.4" r="2.55"/><circle cx="70.3" cy="189.3" r="2.55"/><circle cx="67.9" cy="190.2" r="2.55"/><circle cx="60.1" cy="191.1" r="2.55"/><circle cx="59.5" cy="194.2" r="2.55"/><circle cx="81.1" cy="189.3" r="2.55"/><circle cx="76.9" cy="193.6" r="2.55"/><circle cx="63.1" cy="198.1" r="2.55"/><circle cx="54.0" cy="199.6" r="2.55"/><circle cx="54.0" cy="200.9" r="2.55"/><circle cx="58.9" cy="201.9" r="2.55"/><circle cx="57.0" cy="204.0" r="2.55"/><circle cx="61.3" cy="204.6" r="2.55"/><circle cx="67.9" cy="204.0" r="2.55"/><circle cx="78.1" cy="200.4" r="2.55"/><circle cx="81.1" cy="204.0" r="2.55"/><circle cx="59.5" cy="208.8" r="2.55"/><circle cx="63.1" cy="210.0" r="2.55"/><circle cx="60.7" cy="212.5" r="2.55"/><circle cx="54.0" cy="214.3" r="2.55"/><circle cx="51.6" cy="215.5" r="2.55"/><circle cx="57.0" cy="216.1" r="2.55"/><circle cx="63.1" cy="215.5" r="2.55"/><circle cx="72.1" cy="211.9" r="2.55"/><circle cx="78.7" cy="211.3" r="2.55"/><circle cx="69.1" cy="217.3" r="2.55"/><circle cx="72.7" cy="216.7" r="2.55"/><circle cx="52.8" cy="217.2" r="2.55"/><circle cx="57.0" cy="217.8" r="2.55"/><circle cx="61.9" cy="217.2" r="2.55"/><circle cx="51.0" cy="222.6" r="2.55"/><circle cx="55.2" cy="222.0" r="2.55"/><circle cx="60.1" cy="222.0" r="2.55"/><circle cx="63.7" cy="222.0" r="2.55"/><circle cx="53.4" cy="226.5" r="2.55"/><circle cx="60.1" cy="226.8" r="2.55"/><circle cx="62.5" cy="225.0" r="2.55"/><circle cx="64.3" cy="229.9" r="2.55"/><circle cx="52.8" cy="232.5" r="2.55"/><circle cx="68.5" cy="226.8" r="2.55"/><circle cx="68.5" cy="219.0" r="2.55"/><circle cx="75.1" cy="219.0" r="2.55"/><circle cx="82.0" cy="219.9" r="2.55"/><circle cx="71.8" cy="235.5" r="2.55"/><circle cx="77.6" cy="236.2" r="2.55"/><circle cx="69.5" cy="239.0" r="2.55"/><circle cx="63.6" cy="245.0" r="2.55"/><circle cx="71.8" cy="243.9" r="2.55"/><circle cx="50.6" cy="248.3" r="2.55"/><circle cx="51.5" cy="253.0" r="2.55"/><circle cx="57.6" cy="257.7" r="2.55"/><circle cx="69.1" cy="252.5" r="2.55"/><circle cx="59.6" cy="276.0" r="2.55"/><circle cx="98.0" cy="187.0" r="2.55"/><circle cx="98.0" cy="195.9" r="2.55"/><circle cx="98.0" cy="198.3" r="2.55"/><circle cx="88.0" cy="201.9" r="2.55"/><circle cx="98.0" cy="209.3" r="2.55"/><circle cx="101.9" cy="205.6" r="2.55"/><circle cx="116.0" cy="205.7" r="2.55"/><circle cx="86.8" cy="212.5" r="2.55"/><circle cx="94.0" cy="223.0" r="2.55"/><circle cx="116.0" cy="219.3" r="2.55"/></g>
<g fill="#ffd700"><circle cx="65.5" cy="193.9" r="2.55"/><circle cx="69.8" cy="193.7" r="2.55"/><circle cx="72.6" cy="193.8" r="2.55"/><circle cx="78.5" cy="194.1" r="2.55"/><circle cx="64.7" cy="200.0" r="2.55"/><circle cx="67.9" cy="200.4" r="2.55"/><circle cx="73.7" cy="199.1" r="2.55"/><circle cx="71.3" cy="202.5" r="2.55"/><circle cx="74.9" cy="203.7" r="2.55"/><circle cx="69.1" cy="208.8" r="2.55"/><circle cx="73.3" cy="209.1" r="2.55"/><circle cx="75.7" cy="208.8" r="2.55"/><circle cx="69.7" cy="214.3" r="2.55"/><circle cx="78.1" cy="214.5" r="2.55"/><circle cx="72.7" cy="220.2" r="2.55"/><circle cx="72.7" cy="222.0" r="2.55"/><circle cx="78.1" cy="224.1" r="2.55"/><circle cx="74.8" cy="227.1" r="2.55"/><circle cx="127.8" cy="209.6" r="2.55"/></g>
</g>
<g stroke="#b0b0b0" stroke-width="0.85"><line x1="66.10" y1="173.5" x2="66.10" y2="305.4"/><line x1="100.67" y1="173.5" x2="100.67" y2="305.4"/><line x1="135.24" y1="173.5" x2="135.24" y2="305.4"/><line x1="169.81" y1="173.5" x2="169.81" y2="305.4"/><line x1="204.38" y1="173.5" x2="204.38" y2="305.4"/><line x1="238.95" y1="173.5" x2="238.95" y2="305.4"/><line x1="273.52" y1="173.5" x2="273.52" y2="305.4"/><line x1="308.09" y1="173.5" x2="308.09" y2="305.4"/><line x1="37.0" y1="206.47" x2="337.0" y2="206.47"/><line x1="37.0" y1="239.45" x2="337.0" y2="239.45"/><line x1="37.0" y1="272.42" x2="337.0" y2="272.42"/></g>
<g stroke="#383838" stroke-linecap="square"><line x1="37.0" y1="173.5" x2="337.0" y2="173.5" stroke-width="0.95"/><line x1="37.0" y1="305.4" x2="337.0" y2="305.4" stroke-width="0.95"/><line x1="37.0" y1="173.5" x2="37.0" y2="305.4" stroke-width="1.25"/><line x1="337.0" y1="173.5" x2="337.0" y2="305.4" stroke-width="1.25"/></g>
<g stroke="#383838" stroke-width="0.95"><line x1="66.10" y1="305.4" x2="66.10" y2="309.00"/><line x1="100.67" y1="305.4" x2="100.67" y2="309.00"/><line x1="135.24" y1="305.4" x2="135.24" y2="309.00"/><line x1="169.81" y1="305.4" x2="169.81" y2="309.00"/><line x1="204.38" y1="305.4" x2="204.38" y2="309.00"/><line x1="238.95" y1="305.4" x2="238.95" y2="309.00"/><line x1="273.52" y1="305.4" x2="273.52" y2="309.00"/><line x1="308.09" y1="305.4" x2="308.09" y2="309.00"/><line x1="33.20" y1="173.50" x2="37.0" y2="173.50"/><line x1="33.20" y1="206.47" x2="37.0" y2="206.47"/><line x1="33.20" y1="239.45" x2="37.0" y2="239.45"/><line x1="33.20" y1="272.42" x2="37.0" y2="272.42"/><line x1="33.20" y1="305.40" x2="37.0" y2="305.40"/></g>
<g font-size="7.4" fill="#000"><text x="66.10" y="317.20" text-anchor="middle" textLength="8.7" lengthAdjust="spacingAndGlyphs">50</text><text x="100.67" y="317.20" text-anchor="middle" textLength="12.4" lengthAdjust="spacingAndGlyphs">150</text><text x="135.24" y="317.20" text-anchor="middle" textLength="12.4" lengthAdjust="spacingAndGlyphs">250</text><text x="169.81" y="317.20" text-anchor="middle" textLength="12.4" lengthAdjust="spacingAndGlyphs">350</text><text x="204.38" y="317.20" text-anchor="middle" textLength="12.4" lengthAdjust="spacingAndGlyphs">450</text><text x="238.95" y="317.20" text-anchor="middle" textLength="12.4" lengthAdjust="spacingAndGlyphs">550</text><text x="273.52" y="317.20" text-anchor="middle" textLength="12.4" lengthAdjust="spacingAndGlyphs">650</text><text x="308.09" y="317.20" text-anchor="middle" textLength="12.4" lengthAdjust="spacingAndGlyphs">750</text><text x="29.80" y="176.10" text-anchor="end" textLength="10.5" lengthAdjust="spacingAndGlyphs">1.0</text><text x="29.80" y="209.07" text-anchor="end" textLength="10.5" lengthAdjust="spacingAndGlyphs">0.5</text><text x="29.80" y="242.05" text-anchor="end" textLength="10.5" lengthAdjust="spacingAndGlyphs">0.0</text><text x="29.80" y="275.02" text-anchor="end" textLength="15.9" lengthAdjust="spacingAndGlyphs">−0.5</text><text x="29.80" y="308.00" text-anchor="end" textLength="15.9" lengthAdjust="spacingAndGlyphs">−1.0</text></g>
<text x="122.1" y="329.00" font-size="9.4" textLength="129.3" lengthAdjust="spacingAndGlyphs">Total Precipitation of JJA (mm)</text>
<text transform="translate(7.5,240.00) rotate(-90)" x="0" y="0" text-anchor="middle" font-size="9.4" textLength="103.4" lengthAdjust="spacingAndGlyphs">Corr btw Prcp and NDVI</text>
<clipPath id="c4"><rect x="383.5" y="173.5" width="300.00" height="131.90"/></clipPath>
<g clip-path="url(#c4)">
<g fill="#006400"><circle cx="471.8" cy="229.7" r="2.55"/><circle cx="457.7" cy="236.3" r="2.55"/><circle cx="463.4" cy="237.4" r="2.55"/><circle cx="452.8" cy="242.8" r="2.55"/><circle cx="461.0" cy="242.8" r="2.55"/><circle cx="471.8" cy="242.1" r="2.55"/><circle cx="471.8" cy="243.7" r="2.55"/><circle cx="476.1" cy="245.5" r="2.55"/><circle cx="492.3" cy="246.0" r="2.55"/><circle cx="497.3" cy="245.5" r="2.55"/><circle cx="497.3" cy="256.8" r="2.55"/><circle cx="489.0" cy="258.0" r="2.55"/><circle cx="476.1" cy="261.1" r="2.55"/><circle cx="481.9" cy="263.6" r="2.55"/><circle cx="481.9" cy="269.0" r="2.55"/><circle cx="490.1" cy="269.5" r="2.55"/><circle cx="500.9" cy="267.2" r="2.55"/><circle cx="455.6" cy="274.0" r="2.55"/><circle cx="472.9" cy="273.8" r="2.55"/><circle cx="475.2" cy="274.7" r="2.55"/><circle cx="477.0" cy="277.4" r="2.55"/><circle cx="488.3" cy="284.2" r="2.55"/><circle cx="502.3" cy="274.2" r="2.55"/><circle cx="512.9" cy="235.6" r="2.55"/><circle cx="512.9" cy="238.1" r="2.55"/><circle cx="512.1" cy="240.6" r="2.55"/><circle cx="513.9" cy="257.5" r="2.55"/><circle cx="523.9" cy="251.2" r="2.55"/><circle cx="522.1" cy="255.7" r="2.55"/><circle cx="529.1" cy="261.1" r="2.55"/><circle cx="522.1" cy="262.5" r="2.55"/><circle cx="524.8" cy="262.9" r="2.55"/><circle cx="523.0" cy="265.2" r="2.55"/><circle cx="515.7" cy="262.5" r="2.55"/><circle cx="509.0" cy="263.8" r="2.55"/><circle cx="515.7" cy="266.1" r="2.55"/><circle cx="511.2" cy="266.6" r="2.55"/><circle cx="536.1" cy="247.9" r="2.55"/><circle cx="543.7" cy="242.2" r="2.55"/><circle cx="554.1" cy="250.6" r="2.55"/><circle cx="540.6" cy="256.3" r="2.55"/><circle cx="549.0" cy="259.8" r="2.55"/><circle cx="525.2" cy="271.3" r="2.55"/><circle cx="527.0" cy="274.5" r="2.55"/><circle cx="544.7" cy="286.0" r="2.55"/></g>
<g fill="#32cd32"><circle cx="481.0" cy="251.4" r="2.55"/><circle cx="499.3" cy="249.6" r="2.55"/><circle cx="496.8" cy="251.8" r="2.55"/><circle cx="476.1" cy="267.2" r="2.55"/><circle cx="501.1" cy="262.7" r="2.55"/><circle cx="551.9" cy="233.1" r="2.55"/><circle cx="514.8" cy="246.7" r="2.55"/><circle cx="511.2" cy="249.4" r="2.55"/><circle cx="513.9" cy="251.6" r="2.55"/><circle cx="511.7" cy="253.5" r="2.55"/><circle cx="513.9" cy="254.8" r="2.55"/><circle cx="523.4" cy="258.0" r="2.55"/><circle cx="526.1" cy="255.7" r="2.55"/><circle cx="518.5" cy="270.0" r="2.55"/><circle cx="513.0" cy="274.8" r="2.55"/><circle cx="516.6" cy="274.5" r="2.55"/><circle cx="521.6" cy="278.1" r="2.55"/><circle cx="551.4" cy="271.8" r="2.55"/><circle cx="550.5" cy="275.8" r="2.55"/><circle cx="554.1" cy="274.9" r="2.55"/><circle cx="555.0" cy="279.5" r="2.55"/><circle cx="567.2" cy="236.6" r="2.55"/><circle cx="570.8" cy="274.2" r="2.55"/></g>
<g fill="#808000"><circle cx="432.8" cy="197.8" r="2.55"/><circle cx="437.9" cy="198.1" r="2.55"/><circle cx="431.9" cy="208.9" r="2.55"/><circle cx="421.1" cy="215.0" r="2.55"/><circle cx="397.4" cy="226.4" r="2.55"/><circle cx="442.5" cy="230.9" r="2.55"/><circle cx="428.3" cy="237.6" r="2.55"/><circle cx="426.5" cy="252.7" r="2.55"/><circle cx="447.6" cy="200.8" r="2.55"/><circle cx="455.0" cy="201.7" r="2.55"/><circle cx="471.8" cy="199.7" r="2.55"/><circle cx="499.3" cy="197.4" r="2.55"/><circle cx="499.3" cy="206.7" r="2.55"/><circle cx="489.9" cy="210.3" r="2.55"/><circle cx="479.2" cy="214.6" r="2.55"/><circle cx="469.9" cy="232.7" r="2.55"/><circle cx="489.9" cy="234.7" r="2.55"/><circle cx="500.0" cy="238.7" r="2.55"/><circle cx="478.3" cy="240.6" r="2.55"/><circle cx="456.0" cy="249.9" r="2.55"/><circle cx="461.0" cy="255.9" r="2.55"/><circle cx="486.0" cy="258.3" r="2.55"/><circle cx="476.1" cy="262.7" r="2.55"/><circle cx="477.4" cy="266.7" r="2.55"/><circle cx="457.1" cy="264.9" r="2.55"/><circle cx="458.5" cy="264.9" r="2.55"/><circle cx="455.9" cy="270.6" r="2.55"/><circle cx="502.7" cy="267.6" r="2.55"/><circle cx="476.1" cy="278.7" r="2.55"/><circle cx="474.7" cy="281.9" r="2.55"/><circle cx="500.9" cy="277.7" r="2.55"/><circle cx="502.7" cy="283.3" r="2.55"/><circle cx="503.2" cy="286.0" r="2.55"/><circle cx="526.8" cy="226.2" r="2.55"/><circle cx="515.0" cy="230.7" r="2.55"/><circle cx="546.6" cy="235.6" r="2.55"/><circle cx="509.6" cy="244.4" r="2.55"/><circle cx="529.7" cy="252.1" r="2.55"/><circle cx="548.3" cy="240.8" r="2.55"/><circle cx="554.1" cy="245.3" r="2.55"/><circle cx="546.6" cy="253.6" r="2.55"/><circle cx="562.8" cy="253.4" r="2.55"/><circle cx="504.0" cy="268.2" r="2.55"/><circle cx="515.6" cy="279.9" r="2.55"/><circle cx="562.7" cy="277.6" r="2.55"/></g>
<g fill="#20b2aa"><circle cx="428.7" cy="203.5" r="2.55"/><circle cx="431.9" cy="202.2" r="2.55"/><circle cx="441.4" cy="203.1" r="2.55"/><circle cx="441.4" cy="206.7" r="2.55"/><circle cx="431.0" cy="212.6" r="2.55"/><circle cx="429.2" cy="214.4" r="2.55"/><circle cx="440.9" cy="213.9" r="2.55"/><circle cx="397.4" cy="218.2" r="2.55"/><circle cx="402.8" cy="227.9" r="2.55"/><circle cx="438.7" cy="231.5" r="2.55"/><circle cx="429.2" cy="235.4" r="2.55"/><circle cx="435.0" cy="249.4" r="2.55"/><circle cx="443.6" cy="246.9" r="2.55"/><circle cx="450.3" cy="208.5" r="2.55"/><circle cx="473.6" cy="194.2" r="2.55"/><circle cx="452.8" cy="229.3" r="2.55"/></g>
<g fill="#ff8c00"><circle cx="484.2" cy="269.7" r="2.55"/><circle cx="498.5" cy="270.8" r="2.55"/><circle cx="551.0" cy="213.2" r="2.55"/><circle cx="523.4" cy="234.5" r="2.55"/><circle cx="538.3" cy="230.9" r="2.55"/><circle cx="551.2" cy="227.7" r="2.55"/><circle cx="518.3" cy="250.3" r="2.55"/><circle cx="529.1" cy="257.5" r="2.55"/><circle cx="527.5" cy="266.8" r="2.55"/><circle cx="546.5" cy="241.7" r="2.55"/><circle cx="549.6" cy="247.6" r="2.55"/><circle cx="550.8" cy="252.6" r="2.55"/><circle cx="535.6" cy="266.0" r="2.55"/><circle cx="552.8" cy="263.4" r="2.55"/><circle cx="555.9" cy="266.1" r="2.55"/><circle cx="562.7" cy="251.6" r="2.55"/><circle cx="562.3" cy="265.2" r="2.55"/><circle cx="523.4" cy="270.0" r="2.55"/><circle cx="524.8" cy="274.9" r="2.55"/><circle cx="524.3" cy="280.5" r="2.55"/><circle cx="529.7" cy="276.0" r="2.55"/><circle cx="538.3" cy="276.3" r="2.55"/><circle cx="546.0" cy="277.2" r="2.55"/><circle cx="537.0" cy="283.1" r="2.55"/><circle cx="540.1" cy="281.3" r="2.55"/><circle cx="540.1" cy="284.9" r="2.55"/><circle cx="551.0" cy="276.7" r="2.55"/><circle cx="552.3" cy="280.8" r="2.55"/><circle cx="556.4" cy="268.0" r="2.55"/><circle cx="556.8" cy="270.9" r="2.55"/><circle cx="563.6" cy="282.2" r="2.55"/><circle cx="551.4" cy="291.9" r="2.55"/><circle cx="577.6" cy="217.0" r="2.55"/><circle cx="606.9" cy="216.4" r="2.55"/><circle cx="620.0" cy="225.4" r="2.55"/><circle cx="586.6" cy="235.6" r="2.55"/><circle cx="587.9" cy="246.8" r="2.55"/><circle cx="591.6" cy="245.9" r="2.55"/><circle cx="569.4" cy="248.5" r="2.55"/><circle cx="578.5" cy="253.4" r="2.55"/><circle cx="586.1" cy="254.8" r="2.55"/><circle cx="601.0" cy="251.0" r="2.55"/><circle cx="612.6" cy="253.9" r="2.55"/><circle cx="594.7" cy="258.8" r="2.55"/><circle cx="604.7" cy="260.9" r="2.55"/><circle cx="576.2" cy="263.6" r="2.55"/><circle cx="619.6" cy="263.8" r="2.55"/><circle cx="585.7" cy="265.6" r="2.55"/><circle cx="583.0" cy="270.1" r="2.55"/><circle cx="585.7" cy="271.9" r="2.55"/><circle cx="569.4" cy="274.8" r="2.55"/><circle cx="580.1" cy="274.8" r="2.55"/><circle cx="564.9" cy="279.8" r="2.55"/><circle cx="565.0" cy="283.5" r="2.55"/><circle cx="594.0" cy="270.3" r="2.55"/><circle cx="606.6" cy="267.0" r="2.55"/><circle cx="606.6" cy="270.6" r="2.55"/><circle cx="597.9" cy="276.0" r="2.55"/><circle cx="601.0" cy="278.7" r="2.55"/><circle cx="603.7" cy="279.2" r="2.55"/><circle cx="606.5" cy="276.5" r="2.55"/><circle cx="606.9" cy="279.6" r="2.55"/><circle cx="597.4" cy="282.1" r="2.55"/><circle cx="605.1" cy="285.0" r="2.55"/><circle cx="613.2" cy="275.6" r="2.55"/><circle cx="613.7" cy="281.0" r="2.55"/><circle cx="612.8" cy="283.5" r="2.55"/><circle cx="619.6" cy="265.2" r="2.55"/><circle cx="619.3" cy="270.1" r="2.55"/><circle cx="618.7" cy="274.6" r="2.55"/><circle cx="627.9" cy="289.6" r="2.55"/><circle cx="630.5" cy="292.6" r="2.55"/><circle cx="634.6" cy="291.0" r="2.55"/><circle cx="628.1" cy="227.7" r="2.55"/><circle cx="642.8" cy="245.6" r="2.55"/><circle cx="647.7" cy="247.7" r="2.55"/><circle cx="643.9" cy="250.3" r="2.55"/><circle cx="629.4" cy="249.9" r="2.55"/><circle cx="636.8" cy="250.8" r="2.55"/><circle cx="628.3" cy="256.2" r="2.55"/><circle cx="651.4" cy="256.8" r="2.55"/><circle cx="633.0" cy="260.6" r="2.55"/><circle cx="638.3" cy="258.9" r="2.55"/><circle cx="638.6" cy="263.4" r="2.55"/><circle cx="639.8" cy="267.0" r="2.55"/><circle cx="654.3" cy="268.1" r="2.55"/><circle cx="650.6" cy="269.7" r="2.55"/><circle cx="632.0" cy="270.6" r="2.55"/><circle cx="627.2" cy="272.4" r="2.55"/><circle cx="634.8" cy="273.3" r="2.55"/><circle cx="640.7" cy="271.9" r="2.55"/><circle cx="643.0" cy="274.2" r="2.55"/><circle cx="637.1" cy="276.0" r="2.55"/><circle cx="627.6" cy="278.1" r="2.55"/><circle cx="634.8" cy="280.5" r="2.55"/><circle cx="639.8" cy="279.6" r="2.55"/><circle cx="642.5" cy="278.7" r="2.55"/><circle cx="670.1" cy="275.4" r="2.55"/></g>
<g fill="#ffd700"><circle cx="498.9" cy="251.8" r="2.55"/><circle cx="468.4" cy="281.5" r="2.55"/><circle cx="505.4" cy="255.3" r="2.55"/><circle cx="509.4" cy="268.8" r="2.55"/><circle cx="544.2" cy="257.5" r="2.55"/><circle cx="540.0" cy="260.2" r="2.55"/><circle cx="540.3" cy="265.4" r="2.55"/><circle cx="514.8" cy="271.8" r="2.55"/><circle cx="509.4" cy="274.8" r="2.55"/><circle cx="521.6" cy="274.5" r="2.55"/><circle cx="523.4" cy="282.6" r="2.55"/><circle cx="538.3" cy="271.8" r="2.55"/><circle cx="538.8" cy="274.0" r="2.55"/><circle cx="543.7" cy="282.2" r="2.55"/><circle cx="557.7" cy="274.0" r="2.55"/><circle cx="583.4" cy="253.2" r="2.55"/><circle cx="583.2" cy="257.5" r="2.55"/><circle cx="569.4" cy="260.6" r="2.55"/><circle cx="577.6" cy="265.6" r="2.55"/><circle cx="569.4" cy="269.0" r="2.55"/><circle cx="583.0" cy="283.9" r="2.55"/><circle cx="594.7" cy="277.4" r="2.55"/></g>
</g>
<g stroke="#b0b0b0" stroke-width="0.85"><line x1="409.60" y1="173.5" x2="409.60" y2="305.4"/><line x1="445.67" y1="173.5" x2="445.67" y2="305.4"/><line x1="481.74" y1="173.5" x2="481.74" y2="305.4"/><line x1="517.82" y1="173.5" x2="517.82" y2="305.4"/><line x1="553.89" y1="173.5" x2="553.89" y2="305.4"/><line x1="589.96" y1="173.5" x2="589.96" y2="305.4"/><line x1="626.03" y1="173.5" x2="626.03" y2="305.4"/><line x1="662.10" y1="173.5" x2="662.10" y2="305.4"/><line x1="383.5" y1="206.47" x2="683.5" y2="206.47"/><line x1="383.5" y1="239.45" x2="683.5" y2="239.45"/><line x1="383.5" y1="272.42" x2="683.5" y2="272.42"/></g>
<g stroke="#383838" stroke-linecap="square"><line x1="383.5" y1="173.5" x2="683.5" y2="173.5" stroke-width="0.95"/><line x1="383.5" y1="305.4" x2="683.5" y2="305.4" stroke-width="0.95"/><line x1="383.5" y1="173.5" x2="383.5" y2="305.4" stroke-width="1.25"/><line x1="683.5" y1="173.5" x2="683.5" y2="305.4" stroke-width="1.25"/></g>
<g stroke="#383838" stroke-width="0.95"><line x1="409.60" y1="305.4" x2="409.60" y2="309.00"/><line x1="445.67" y1="305.4" x2="445.67" y2="309.00"/><line x1="481.74" y1="305.4" x2="481.74" y2="309.00"/><line x1="517.82" y1="305.4" x2="517.82" y2="309.00"/><line x1="553.89" y1="305.4" x2="553.89" y2="309.00"/><line x1="589.96" y1="305.4" x2="589.96" y2="309.00"/><line x1="626.03" y1="305.4" x2="626.03" y2="309.00"/><line x1="662.10" y1="305.4" x2="662.10" y2="309.00"/><line x1="379.70" y1="173.50" x2="383.5" y2="173.50"/><line x1="379.70" y1="206.47" x2="383.5" y2="206.47"/><line x1="379.70" y1="239.45" x2="383.5" y2="239.45"/><line x1="379.70" y1="272.42" x2="383.5" y2="272.42"/><line x1="379.70" y1="305.40" x2="383.5" y2="305.40"/></g>
<g font-size="7.4" fill="#000"><text x="409.60" y="317.20" text-anchor="middle" textLength="8.7" lengthAdjust="spacingAndGlyphs">20</text><text x="445.67" y="317.20" text-anchor="middle" textLength="8.7" lengthAdjust="spacingAndGlyphs">22</text><text x="481.74" y="317.20" text-anchor="middle" textLength="8.7" lengthAdjust="spacingAndGlyphs">24</text><text x="517.82" y="317.20" text-anchor="middle" textLength="8.7" lengthAdjust="spacingAndGlyphs">26</text><text x="553.89" y="317.20" text-anchor="middle" textLength="8.7" lengthAdjust="spacingAndGlyphs">28</text><text x="589.96" y="317.20" text-anchor="middle" textLength="8.7" lengthAdjust="spacingAndGlyphs">30</text><text x="626.03" y="317.20" text-anchor="middle" textLength="8.7" lengthAdjust="spacingAndGlyphs">32</text><text x="662.10" y="317.20" text-anchor="middle" textLength="8.7" lengthAdjust="spacingAndGlyphs">34</text><text x="376.30" y="176.10" text-anchor="end" textLength="10.5" lengthAdjust="spacingAndGlyphs">1.0</text><text x="376.30" y="209.07" text-anchor="end" textLength="10.5" lengthAdjust="spacingAndGlyphs">0.5</text><text x="376.30" y="242.05" text-anchor="end" textLength="10.5" lengthAdjust="spacingAndGlyphs">0.0</text><text x="376.30" y="275.02" text-anchor="end" textLength="15.9" lengthAdjust="spacingAndGlyphs">−0.5</text><text x="376.30" y="308.00" text-anchor="end" textLength="15.9" lengthAdjust="spacingAndGlyphs">−1.0</text></g>
<text x="478.7" y="329.00" font-size="9.4" textLength="109.3" lengthAdjust="spacingAndGlyphs">Average Tmax of JJA (°C)</text>
<text transform="translate(354.6,239.95) rotate(-90)" x="0" y="0" text-anchor="middle" font-size="9.4" textLength="109.5" lengthAdjust="spacingAndGlyphs">Corr btw Tmax and NDVI</text>
<g><rect x="542.8" y="177.1" width="137.7" height="32.5" rx="2" fill="#fff" fill-opacity="0.8" stroke="#d0d0d0" stroke-width="0.9"/><circle cx="552.5" cy="183.1" r="2.55" fill="#006400"/><text x="564.9" y="185.4" font-size="6.9" font-style="italic" textLength="39.3" lengthAdjust="spacingAndGlyphs">F. orientalis</text><circle cx="552.5" cy="193.2" r="2.55" fill="#32cd32"/><text x="564.9" y="195.5" font-size="6.9" font-style="italic" textLength="28.0" lengthAdjust="spacingAndGlyphs">Q. cerris</text><circle cx="552.5" cy="203.4" r="2.55" fill="#808000"/><text x="564.9" y="205.7" font-size="6.9" font-style="italic" textLength="40.3" lengthAdjust="spacingAndGlyphs">P. sylvestris</text><circle cx="625.5" cy="183.1" r="2.55" fill="#20b2aa"/><text x="637.9" y="185.4" font-size="6.9" font-style="italic" textLength="39.5" lengthAdjust="spacingAndGlyphs">P. orientalis</text><circle cx="625.5" cy="193.2" r="2.55" fill="#ff8c00"/><text x="637.9" y="195.5" font-size="6.9" font-style="italic" textLength="28.1" lengthAdjust="spacingAndGlyphs">P. brutia</text><circle cx="625.5" cy="203.4" r="2.55" fill="#ffd700"/><text x="637.9" y="205.7" font-size="6.9" font-style="italic" textLength="27.3" lengthAdjust="spacingAndGlyphs">C. libani</text></g>
</svg>
</body></html>
